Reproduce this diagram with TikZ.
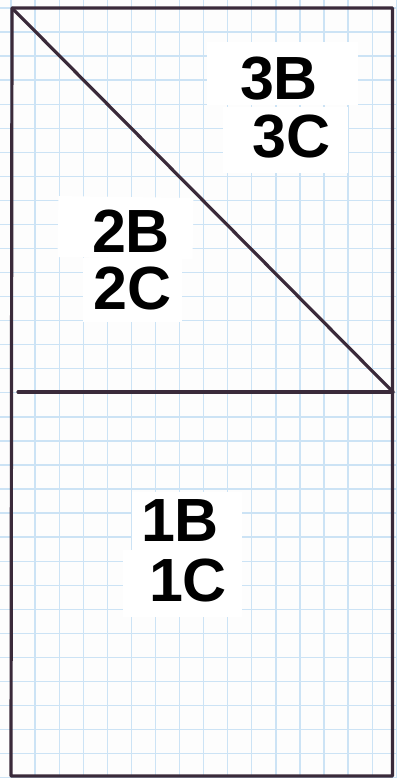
\documentclass[tikz,border=0pt]{standalone}
\usepackage{fontspec}
\setmainfont{Liberation Sans}
\definecolor{gridblue}{RGB}{204,227,245}
\definecolor{pen}{RGB}{58,42,58}
\begin{document}
\begin{tikzpicture}[x=1pt,y=-1pt,
  gridline/.style={draw=gridblue,line width=1.3pt},
  penline/.style={draw=pen,line width=3.2pt,line cap=round,line join=round},
  labelbox/.style={fill=white,draw=none,inner sep=0pt,outer sep=0pt},
  labeltext/.style={inner sep=0pt,anchor=center,font=\bfseries\fontsize{61}{61}\selectfont,text=black}]
\useasboundingbox[fill={rgb,255:red,253;green,253;blue,253}] (0,0) rectangle (397,778);
% graph paper
\foreach \i in {0,...,16} {\draw[gridline] ({11+24.08*\i},0) -- ({11+24.08*\i},778);}
\foreach \j in {0,...,32} {\draw[gridline] (0,{8+24.05*\j}) -- (397,{8+24.05*\j});}
% paper labels
\node[labelbox,minimum width=151pt,minimum height=63pt] (b3b) at (282.5,73.5) {};
\node[labelbox,minimum width=125pt,minimum height=66pt] (b3c) at (285.5,140) {};
\node[labelbox,minimum width=135pt,minimum height=61pt,rotate=-0.8] (b2b) at (125.5,227.5) {};
\node[labelbox,minimum width=99pt,minimum height=64pt] (b2c) at (132.5,290) {};
\node[labelbox,minimum width=110pt,minimum height=58pt] (b1b) at (187,521) {};
\node[labelbox,minimum width=119pt,minimum height=67pt] (b1c) at (182.5,583.5) {};
\node[labeltext] (t3b) at (279,79) {3B};
\node[labeltext] (t3c) at (291.5,136.5) {3C};
\node[labeltext] (t2b) at (131,231) {2B};
\node[labeltext] (t2c) at (132.5,288.5) {2C};
\node[labeltext] (t1b) at (180,520.5) {1B};
\node[labeltext] (t1c) at (188,580) {1C};
% pen drawing
\coordinate (tl) at (12,8);
\coordinate (tr) at (392.5,8);
\coordinate (br) at (392.5,776);
\coordinate (bl) at (11,776);
\coordinate (ml) at (18,392);
\coordinate (mr) at (393,392);
\draw[penline] (tr) -- (tl) -- (bl) -- (br) -- (tr);
\draw[penline] (tl) -- (mr);
\draw[penline] (ml) -- (mr);
\end{tikzpicture}
\end{document}
